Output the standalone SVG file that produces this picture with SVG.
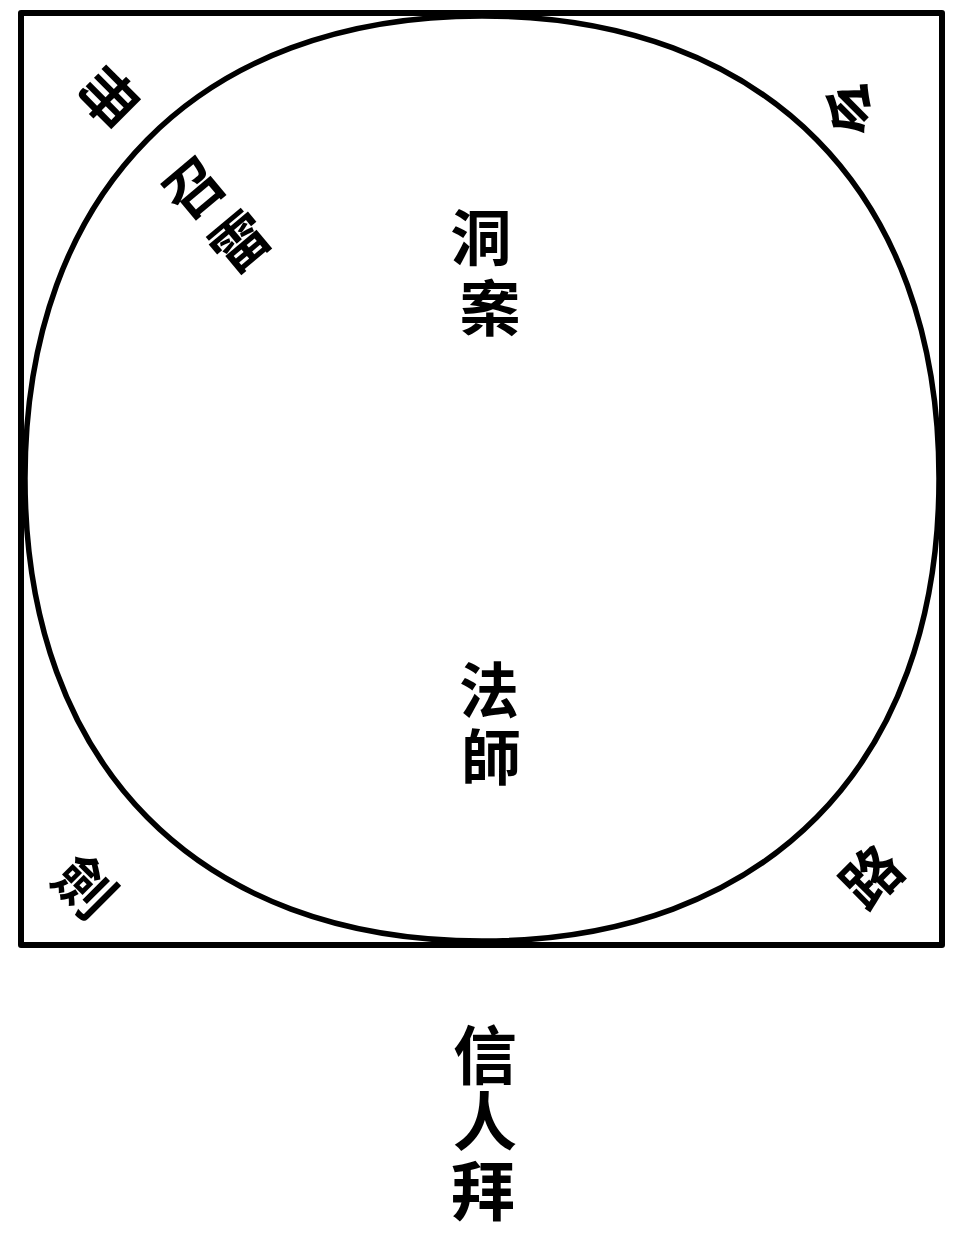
<svg xmlns="http://www.w3.org/2000/svg" width="965" height="1233" viewBox="0 0 965 1233">
<style>
.ln{fill:none;stroke:#000;stroke-linejoin:round}
.t{font-family:"Noto Sans CJK TC","Noto Sans CJK SC",sans-serif;font-weight:700;fill:#000;text-anchor:middle}
</style>
<rect width="965" height="1233" fill="#fff"/>
<g id="frame"><rect class="ln" x="21" y="13" width="921" height="932" stroke-width="6"/></g>
<g id="circle"><path class="ln" stroke-width="5.5" d="M939 478.5C939 765.3 765.3 941 482 941C198.7 941 25 765.3 25 478.5C25 191.7 198.7 16 482 16C765.3 16 939 191.7 939 478.5Z"/></g>
<g id="connectors"></g>
<g id="dongan"><text class="t" font-size="61"><tspan x="481" y="261">洞</tspan><tspan x="490" y="331">案</tspan></text></g>
<g id="fashi"><text class="t" font-size="60"><tspan x="489" y="713">法</tspan><tspan x="491" y="780">師</tspan></text></g>
<g id="xinrenbai"><text class="t" font-size="64"><tspan x="485" y="1079">信</tspan><tspan x="485" y="1145">人</tspan><tspan x="483" y="1215">拜</tspan></text></g>
<g id="zhaolei">
<text class="t" font-size="58" transform="translate(194,188) rotate(-40)" y="21">召</text>
<text class="t" font-size="58" transform="translate(240,242) rotate(-40)" y="21">雷</text>
</g>
<g id="corner-tl"><text class="t" font-size="56" transform="translate(109,97) rotate(135)" y="20">冊</text></g>
<g id="corner-tr"><text class="t" font-size="58" transform="translate(853,106) rotate(-135)" y="21">令</text></g>
<g id="corner-bl"><text class="t" font-size="58" transform="translate(84,887) rotate(45)" y="21">劍</text></g>
<g id="corner-br"><text class="t" font-size="58" transform="translate(872,877) rotate(-45)" y="21">路</text></g>
</svg>
